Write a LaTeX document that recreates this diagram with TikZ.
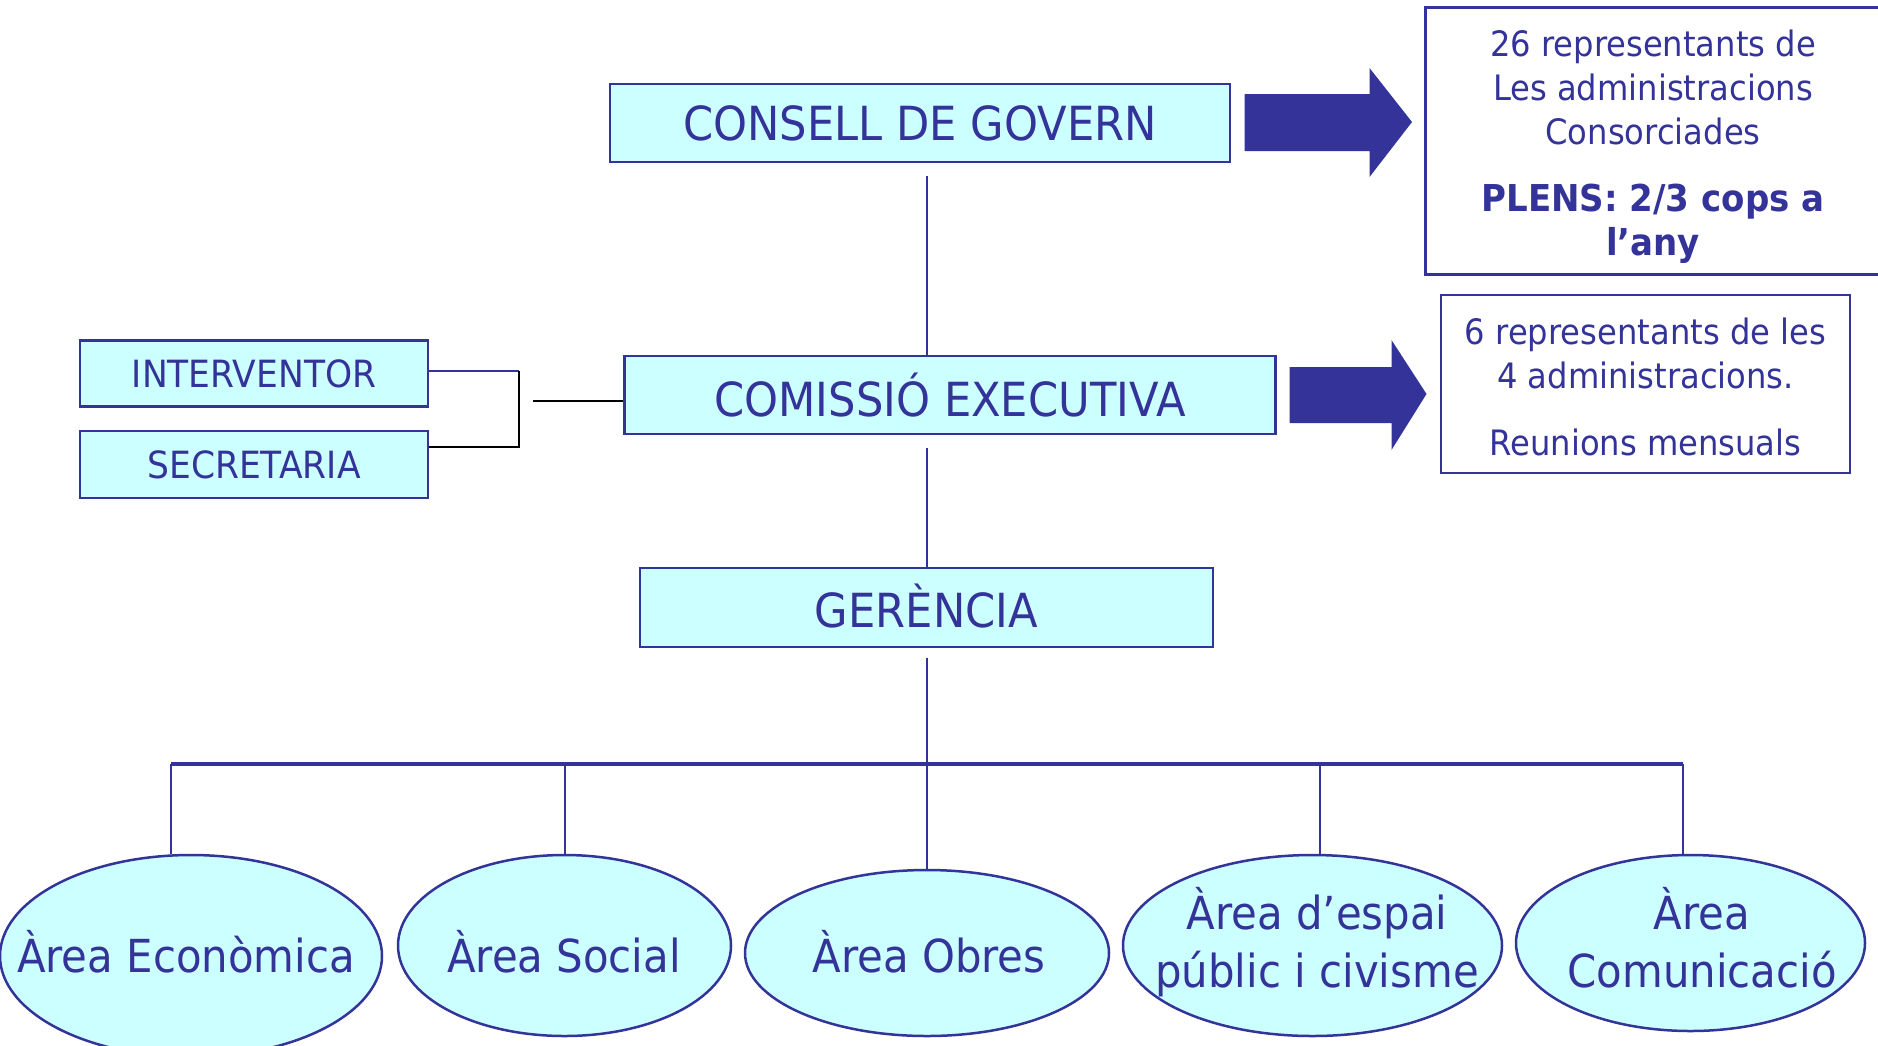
\documentclass[tikz,border=0pt]{standalone}
\usepackage{fontspec}
\setmainfont{DejaVu Sans}[FakeStretch=0.92]
\usetikzlibrary{shapes.geometric}
\definecolor{navy}{HTML}{333399}
\definecolor{cyanfill}{HTML}{CCFFFF}
\begin{document}
\begin{tikzpicture}[x=1pt,y=-1pt,
  box/.style={draw=navy, fill=cyanfill, line width=2.5pt, inner sep=0pt, text=navy},
  bigbox/.style={box, font=\fontsize{47}{56}\selectfont},
  smallbox/.style={box, font=\fontsize{37.5}{44}\selectfont},
  infobox/.style={draw=navy, line width=2.5pt, inner sep=0pt},
  infotext/.style={inner sep=0pt, text=navy, align=center, font=\fontsize{35}{44}\selectfont},
  area/.style={ellipse, draw=navy, fill=cyanfill, line width=2.5pt, inner sep=0pt},
  areatext/.style={inner sep=0pt, text=navy, align=center, font=\fontsize{45.5}{58}\selectfont},
  link/.style={draw=navy, line width=2pt},
  blk/.style={draw=black, line width=2pt},
  bigarrow/.style={fill=navy}]
\useasboundingbox (0,0) rectangle (1878,1045);

% main boxes
\node[bigbox, minimum width=620pt, minimum height=78pt] (consell) at (920,123) {CONSELL DE GOVERN};
\node[bigbox, minimum width=651pt, minimum height=78pt] (comissio) at (950,395) {COMISSIÓ EXECUTIVA};
\node[bigbox, minimum width=573pt, minimum height=79pt] (gerencia) at (926.5,607.5) {\raisebox{3pt}{GERÈNCIA}};
\node[smallbox, minimum width=348pt, minimum height=66pt] (interv) at (254,373.5) {INTERVENTOR};
\node[smallbox, minimum width=348pt, minimum height=67pt] (secr) at (254,464.5) {SECRETARIA};

% info boxes
\node[infobox, minimum width=465pt, minimum height=267pt] (info1) at (1658,141) {};
\node[infotext] (info1t) at (1653,147)
  {26 representants de\\Les administracions\\Consorciades\\[23pt]{\fontsize{37}{45}\selectfont\bfseries PLENS: 2/3 cops a}\\{\fontsize{37}{45}\selectfont\bfseries l’any}};
\node[infobox, minimum width=409pt, minimum height=178pt] (info2) at (1645.5,384) {};
\node[infotext] (info2t) at (1645.5,386.5)
  {6 representants de les\\4 administracions.\\[23pt]Reunions mensuals};

% block arrows
\fill[bigarrow] (1244.5,94) -- (1369.5,94) -- (1369.5,68) -- (1412,122) -- (1369.5,177) -- (1369.5,151) -- (1244.5,151) -- cycle;
\fill[bigarrow] (1289.5,367) -- (1391.5,367) -- (1391.5,340) -- (1426.5,394) -- (1391.5,450) -- (1391.5,423) -- (1289.5,423) -- cycle;

% areas
\node[area, minimum width=382pt, minimum height=202pt] (a1) at (191,956) {};
\node[area, minimum width=333pt, minimum height=181pt] (a2) at (564.5,945.5) {};
\node[area, minimum width=364pt, minimum height=166pt] (a3) at (927,953) {};
\node[area, minimum width=379pt, minimum height=181pt] (a4) at (1312.5,945.5) {};
\node[area, minimum width=349pt, minimum height=176pt] (a5) at (1690.5,943) {};
\node[areatext] (t1) at (186,952) {Àrea Econòmica};
\node[areatext] (t2) at (564,952) {Àrea Social};
\node[areatext] (t3) at (929,952) {Àrea Obres};
\node[areatext] (t4) at (1317,942.5) {Àrea d’espai\\públic i civisme};
\node[areatext] (t5) at (1702,937.5) {Àrea\\Comunicació};

% trunk
\coordinate (trunk) at (927,0);
\coordinate (bus) at (927,764);
\coordinate (d1) at (171,764);
\coordinate (d4) at (1320,764);
\coordinate (d5) at (1683,764);
\draw[link] ([yshift=-13pt]consell.south -| trunk) -- (comissio.north -| trunk);
\draw[link] ([yshift=-13pt]comissio.south -| trunk) -- (gerencia.north -| trunk);
\draw[link] ([yshift=-10pt]gerencia.south -| trunk) -- (bus);
\draw[link, line width=3.5pt] (d1) -- (d5);
\draw[link] (d1) -- (a1.north -| d1);
\draw[link] (bus -| a2.north) -- (a2.north);
\draw[link] (bus) -- (a3.north);
\draw[link] (d4) -- (a4.north -| d4);
\draw[link] (d5) -- (a5.north -| d5);

% bracket
\coordinate (bk) at (519,408);
\coordinate (bl) at (533,401);
\draw[link] ([yshift=3pt]interv.east) -- ([yshift=3pt]interv.east -| bk);
\draw[blk] ([yshift=3pt]interv.east -| bk) -- ([yshift=18pt]secr.east -| bk) -- ([yshift=18pt]secr.east);
\draw[blk] (bl) -- (bl -| comissio.west);
\end{tikzpicture}
\end{document}
